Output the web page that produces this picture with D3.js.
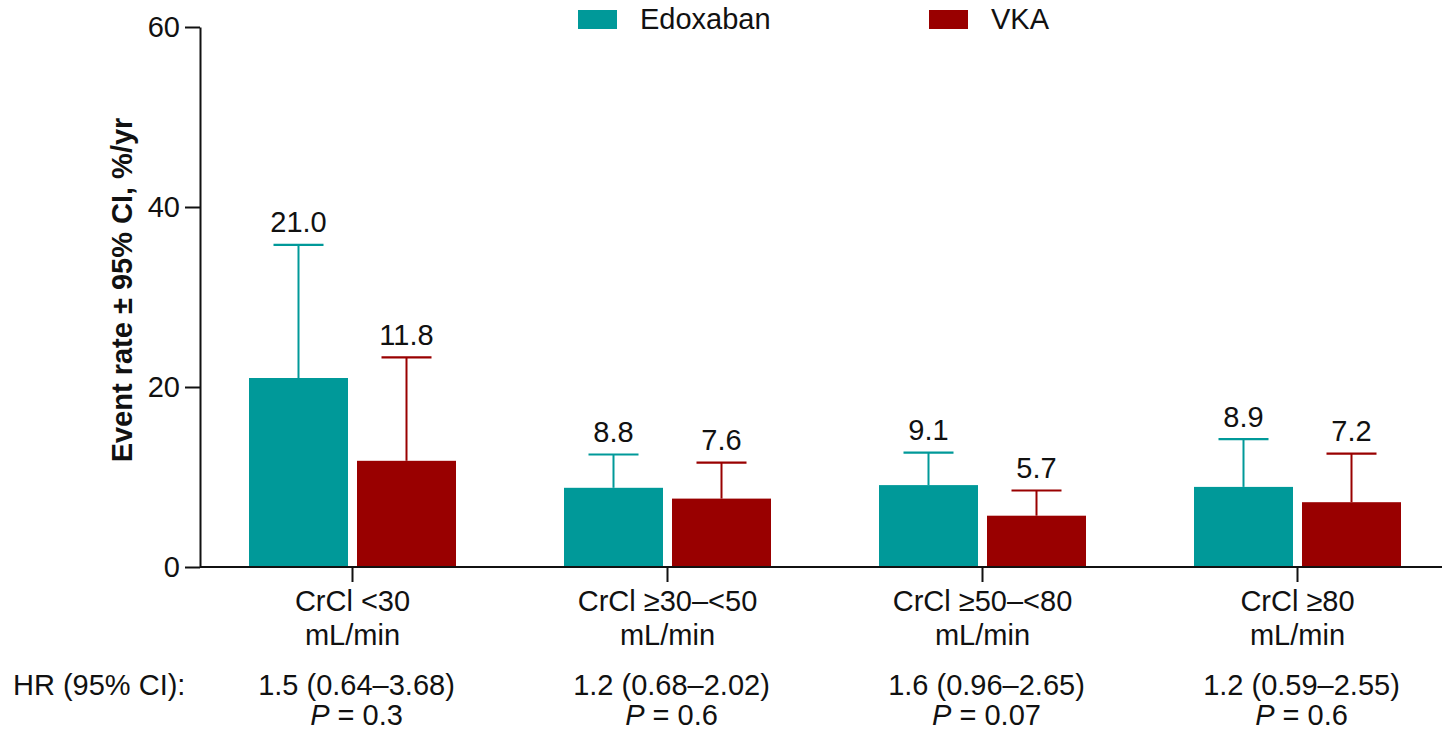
<!DOCTYPE html>
<html>
<head>
<meta charset="utf-8">
<script src="https://cdn.jsdelivr.net/npm/d3@7"></script>
<style>
  html, body { margin: 0; padding: 0; background: #fff; }
  svg { display: block; font-family: "Liberation Sans", Arial, sans-serif; }
</style>
</head>
<body>
<svg id="chart" width="1442" height="732"></svg>
<script>
// Event rates by renal function group (CrCl), with upper 95% CI bound
const categoriesLine1 = ["CrCl <30", "CrCl \u226530\u2013<50", "CrCl \u226550\u2013<80", "CrCl \u226580"];
const categoriesLine2 = ["mL/min", "mL/min", "mL/min", "mL/min"];
const seriesNames = ["Edoxaban", "VKA"];
const edoxabanRate = [21.0, 8.8, 9.1, 8.9];
const edoxabanUpper = [35.8, 12.5, 12.7, 14.2];
const vkaRate = [11.8, 7.6, 5.7, 7.2];
const vkaUpper = [23.3, 11.6, 8.5, 12.6];
const hrText = ["1.5 (0.64\u20133.68)", "1.2 (0.68\u20132.02)", "1.6 (0.96\u20132.65)", "1.2 (0.59\u20132.55)"];
const pText = ["0.3", "0.6", "0.07", "0.6"];
const yTicks = [0, 20, 40, 60];

const colors = { "Edoxaban": "#009999", "VKA": "#990000" };
const FONT = 29;

const svg = d3.select("#chart");
const W = 1442;

const y = d3.scaleLinear().domain([0, 60]).range([567, 27]);
const x0 = d3.scaleBand().domain(d3.range(categoriesLine1.length)).range([195, 1455]).paddingInner(0);
const bw = x0.bandwidth();
const x1 = d3.scaleBand().domain(seriesNames).range([bw / 2 - 103.5, bw / 2 + 103.5]).paddingInner(9 / 108);

const rows = categoriesLine1.map((c, i) => ({
  i,
  values: [
    { name: "Edoxaban", rate: edoxabanRate[i], upper: edoxabanUpper[i] },
    { name: "VKA", rate: vkaRate[i], upper: vkaUpper[i] }
  ]
}));

// bars
const groups = svg.append("g").selectAll("g").data(rows).join("g")
  .attr("transform", d => `translate(${x0(d.i)},0)`);

groups.selectAll("rect").data(d => d.values).join("rect")
  .attr("x", d => x1(d.name))
  .attr("width", x1.bandwidth())
  .attr("y", d => y(d.rate))
  .attr("height", d => y(0) - y(d.rate))
  .attr("fill", d => colors[d.name]);

// upper error bars
groups.selectAll("line.stem").data(d => d.values).join("line")
  .attr("class", "stem")
  .attr("x1", d => x1(d.name) + x1.bandwidth() / 2)
  .attr("x2", d => x1(d.name) + x1.bandwidth() / 2)
  .attr("y1", d => y(d.rate))
  .attr("y2", d => y(d.upper))
  .attr("stroke", d => colors[d.name])
  .attr("stroke-width", 2);

groups.selectAll("line.cap").data(d => d.values).join("line")
  .attr("class", "cap")
  .attr("x1", d => x1(d.name) + x1.bandwidth() / 2 - 25)
  .attr("x2", d => x1(d.name) + x1.bandwidth() / 2 + 25)
  .attr("y1", d => y(d.upper))
  .attr("y2", d => y(d.upper))
  .attr("stroke", d => colors[d.name])
  .attr("stroke-width", 2.2);

// value labels
groups.selectAll("text.val").data(d => d.values).join("text")
  .attr("class", "val")
  .attr("x", d => x1(d.name) + x1.bandwidth() / 2)
  .attr("y", d => y(d.upper) - 12.5)
  .attr("text-anchor", "middle")
  .attr("font-size", FONT)
  .attr("fill", "#111")
  .text(d => d.rate.toFixed(1));

// y axis
const yAxis = svg.append("g")
  .attr("transform", "translate(200,0)")
  .call(d3.axisLeft(y).tickValues(yTicks).tickSize(15).tickSizeOuter(0).tickPadding(5));
yAxis.select(".domain").attr("stroke", "#111").attr("stroke-width", 2);
yAxis.selectAll(".tick line").attr("stroke", "#111").attr("stroke-width", 2);
yAxis.selectAll(".tick text").attr("font-size", FONT).attr("fill", "#111")
  .attr("font-family", "Liberation Sans, Arial, sans-serif");

// x axis
svg.append("line")
  .attr("x1", 200).attr("x2", W)
  .attr("y1", y(0)).attr("y2", y(0))
  .attr("stroke", "#111").attr("stroke-width", 2);

const xAxis = svg.append("g")
  .attr("transform", `translate(0,${y(0)})`)
  .call(d3.axisBottom(x0).tickSize(15).tickSizeOuter(0).tickFormat(""));
xAxis.select(".domain").remove();
xAxis.selectAll(".tick line").attr("stroke", "#111").attr("stroke-width", 2);

// category labels and hazard ratios
const cx = i => x0(i) + bw / 2;
const catText = svg.append("g").attr("font-size", FONT).attr("fill", "#111").attr("text-anchor", "middle");
categoriesLine1.forEach((c, i) => {
  catText.append("text").attr("x", cx(i)).attr("y", 611).text(c);
  catText.append("text").attr("x", cx(i)).attr("y", 645).text(categoriesLine2[i]);
  catText.append("text").attr("x", cx(i) + 4).attr("y", 695).text(hrText[i]);
  const p = catText.append("text").attr("x", cx(i) + 4).attr("y", 725);
  p.append("tspan").attr("font-style", "italic").text("P");
  p.append("tspan").text(" = " + pText[i]);
});

svg.append("text")
  .attr("x", 13).attr("y", 695)
  .attr("font-size", FONT).attr("fill", "#111")
  .text("HR (95% CI):");

// y axis title
svg.append("text")
  .attr("transform", "translate(132,290) rotate(-90)")
  .attr("text-anchor", "middle")
  .attr("font-size", FONT).attr("font-weight", "bold").attr("fill", "#111")
  .text("Event rate \u00b1 95% CI, %/yr");

// legend
const legendX = [578, 929];
seriesNames.forEach((s, i) => {
  svg.append("rect")
    .attr("x", legendX[i]).attr("y", 10)
    .attr("width", 39).attr("height", 19)
    .attr("fill", colors[s]);
  svg.append("text")
    .attr("x", legendX[i] + 62).attr("y", 29)
    .attr("font-size", FONT).attr("fill", "#111")
    .text(s);
});
</script>
</body>
</html>
